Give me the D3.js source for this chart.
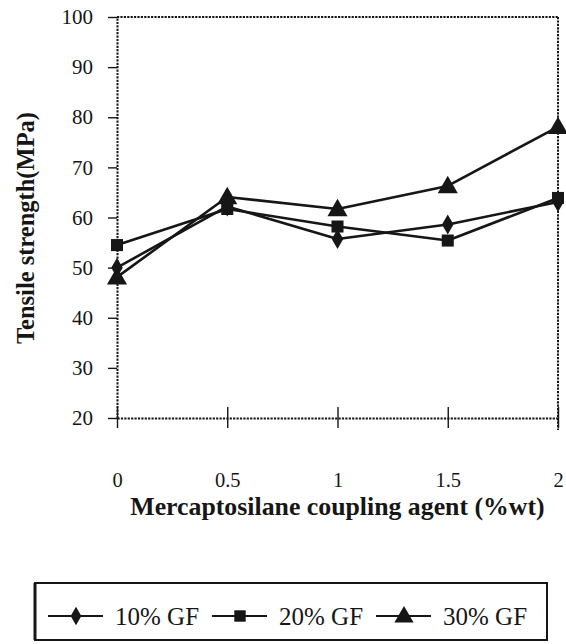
<!DOCTYPE html>
<html>
<head>
<meta charset="utf-8">
<script src="https://cdn.jsdelivr.net/npm/d3@7/dist/d3.min.js"></script>
<style>
  html, body { margin: 0; padding: 0; background: #fff; }
  svg { display: block; }
</style>
</head>
<body>
<svg id="chart" width="566" height="644"></svg>
<script>
// ---- data ----
const coupling = [0, 0.5, 1, 1.5, 2];
const gf10 = [50.0, 62.2, 55.7, 58.6, 63.1];
const gf20 = [54.5, 61.7, 58.2, 55.4, 63.9];
const gf30 = [48.1, 64.1, 61.7, 66.3, 78.1];
const seriesNames = ["10% GF", "20% GF", "30% GF"];
const xTicks = [0, 0.5, 1, 1.5, 2];
const xTickLabels = ["0", "0.5", "1", "1.5", "2"];
const yTicks = [20, 30, 40, 50, 60, 70, 80, 90, 100];
const xTitle = "Mercaptosilane coupling agent (%wt)";
const yTitle = "Tensile strength(MPa)";

const ink = "#161616";
const serif = "'Liberation Serif', 'Times New Roman', serif";
const svg = d3.select("#chart");
const x = d3.scaleLinear().domain([0, 2]).range([117, 558]);
const y = d3.scaleLinear().domain([20, 100]).range([418, 17]);

const frameDash = "2.2,1.2";

// frame top & right (dotted)
svg.append("line").attr("x1", x(0)).attr("x2", x(2)).attr("y1", y(100)).attr("y2", y(100))
  .attr("stroke", ink).attr("stroke-width", 2).attr("stroke-dasharray", frameDash);
svg.append("line").attr("x1", x(2)).attr("x2", x(2)).attr("y1", y(100)).attr("y2", y(20) + 12)
  .attr("stroke", ink).attr("stroke-width", 2).attr("stroke-dasharray", frameDash);

// y axis
const yAxis = svg.append("g").attr("transform", `translate(${x(0)},0)`)
  .call(d3.axisLeft(y).tickValues(yTicks).tickSize(9).tickSizeOuter(0).tickPadding(15));
yAxis.select(".domain").attr("stroke", ink).attr("stroke-width", 2).attr("stroke-dasharray", frameDash);
yAxis.selectAll(".tick line").attr("stroke", ink).attr("stroke-width", 1.4);
yAxis.selectAll(".tick text").attr("fill", ink)
  .style("font-family", serif).style("font-size", "21px");

// x axis
const xAxis = svg.append("g").attr("transform", `translate(0,${y(20)})`)
  .call(d3.axisBottom(x).tickValues(xTicks).tickFormat((d, i) => xTickLabels[i]).tickSize(10).tickSizeOuter(0));
xAxis.select(".domain").attr("stroke", ink).attr("stroke-width", 2).attr("stroke-dasharray", frameDash);
xAxis.selectAll(".tick line").attr("stroke", ink).attr("stroke-width", 1.4).attr("y1", -11);
xAxis.selectAll(".tick text").attr("fill", ink).attr("y", 69).attr("dy", 0)
  .style("font-family", serif).style("font-size", "20.5px");

// titles
svg.append("text").attr("x", (x(0) + x(2)) / 2).attr("y", 515).attr("text-anchor", "middle")
  .attr("fill", ink).style("font-family", serif)
  .style("font-size", "25.8px").style("font-weight", "bold").text(xTitle);
svg.append("text").attr("transform", "translate(34,228) rotate(-90)").attr("text-anchor", "middle")
  .attr("fill", ink).style("font-family", serif)
  .style("font-size", "24.5px").style("font-weight", "bold").text(yTitle);

// series
const allSeries = [gf10, gf20, gf30];
const symbols = [d3.symbolDiamond, d3.symbolSquare, d3.symbolTriangle];
const symSizes = [115, 145, 175];
const line = d3.line().x((d, i) => x(coupling[i])).y(d => y(d));

allSeries.forEach((vals, s) => {
  svg.append("path").datum(vals).attr("d", line)
    .attr("fill", "none").attr("stroke", ink).attr("stroke-width", 2.6).attr("stroke-linejoin", "round");
});
allSeries.forEach((vals, s) => {
  svg.append("g").selectAll("path").data(vals).join("path")
    .attr("transform", (d, i) => `translate(${x(coupling[i])},${y(d) + (s === 2 ? 1.5 : 0)})`)
    .attr("d", d3.symbol().type(symbols[s]).size(symSizes[s]))
    .attr("fill", ink);
});

// legend
const lg = svg.append("g");
lg.append("rect").attr("x", 35).attr("y", 583).attr("width", 512).attr("height", 57)
  .attr("fill", "none").attr("stroke", ink).attr("stroke-width", 2);
lg.append("line").attr("x1", 35).attr("x2", 35).attr("y1", 583).attr("y2", 640)
  .attr("stroke", ink).attr("stroke-width", 3);
const legendX = d3.scaleLinear().domain([0, 1]).range([48, 212]);
seriesNames.forEach((name, s) => {
  const L = legendX(s);
  const cy = 616;
  lg.append("line").attr("x1", L).attr("x2", L + 55).attr("y1", cy).attr("y2", cy)
    .attr("stroke", ink).attr("stroke-width", 2.2);
  lg.append("path").attr("transform", `translate(${L + 28},${cy + (s === 2 ? 1 : 0)})`)
    .attr("d", d3.symbol().type(symbols[s]).size(symSizes[s] - 15))
    .attr("fill", ink);
  lg.append("text").attr("x", L + 67).attr("y", 625).attr("fill", ink)
    .style("font-family", serif)
    .style("font-size", "25px").text(name);
});
</script>
</body>
</html>
